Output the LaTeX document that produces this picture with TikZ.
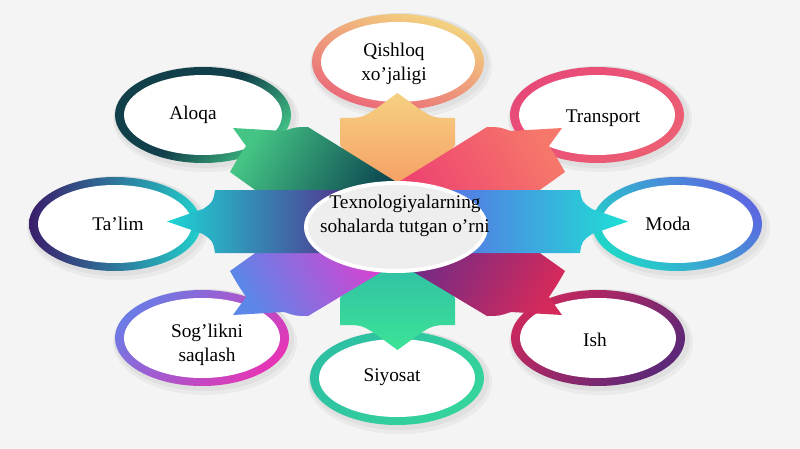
\documentclass[tikz,border=0pt]{standalone}
\usepackage{fontspec}
\setmainfont{Liberation Serif}
\definecolor{bg}{HTML}{F4F4F4}
\definecolor{hubfill}{HTML}{EEEEEE}
\definecolor{qringtop}{HTML}{F3D67E}
\definecolor{qringbot}{HTML}{EA6679}
\definecolor{qtip}{HTML}{F5D182}
\definecolor{qbase}{HTML}{F7945F}
\definecolor{aringdark}{HTML}{12404A}
\definecolor{aringgreen}{HTML}{40BF85}
\definecolor{atip}{HTML}{45C585}
\definecolor{abase}{HTML}{0E4A52}
\definecolor{tringa}{HTML}{E84A78}
\definecolor{tringb}{HTML}{EC5E74}
\definecolor{ttip}{HTML}{F6786A}
\definecolor{tbase}{HTML}{EE4470}
\definecolor{mringblue}{HTML}{5B68E0}
\definecolor{mringcyan}{HTML}{20D5C8}
\definecolor{mtip}{HTML}{1EE0D5}
\definecolor{mbase}{HTML}{5B6FE6}
\definecolor{iringred}{HTML}{C8285E}
\definecolor{iringpurple}{HTML}{5C2877}
\definecolor{itip}{HTML}{D32A5B}
\definecolor{ibase}{HTML}{6E2A88}
\definecolor{sringa}{HTML}{2EC0A3}
\definecolor{sringb}{HTML}{34D49B}
\definecolor{stip}{HTML}{3CE396}
\definecolor{sbase}{HTML}{2DB5AA}
\definecolor{gringblue}{HTML}{6C7AE5}
\definecolor{gringpink}{HTML}{E535B5}
\definecolor{gtip}{HTML}{5C86E8}
\definecolor{gbase}{HTML}{DF3ECF}
\definecolor{lringpurple}{HTML}{3B1D6A}
\definecolor{lringcyan}{HTML}{20D0CC}
\definecolor{ltip}{HTML}{1DD5D5}
\definecolor{lbase}{HTML}{55288A}
\begin{document}
\begin{tikzpicture}[x=0.03cm,y=-0.03cm,
  lbl/.style={font=\fontsize{16.5}{21}\selectfont, align=center, text=black},
  halo/.style={fill=black, opacity=.04},
  hole/.style={fill=white}]
  \useasboundingbox (0,0) rectangle (800,449);
  \fill[bg] (0,0) rectangle (800,449);

  \fill[halo] (401,66) ellipse [x radius=91, y radius=53];
  \fill[halo] (206,119) ellipse [x radius=93, y radius=53];
  \fill[halo] (600,119) ellipse [x radius=92, y radius=53];
  \fill[halo] (118,228) ellipse [x radius=91, y radius=52];
  \fill[halo] (680,228) ellipse [x radius=90, y radius=52];
  \fill[halo] (205,342) ellipse [x radius=92, y radius=53];
  \fill[halo] (400,382) ellipse [x radius=92, y radius=52];
  \fill[halo] (601,342) ellipse [x radius=92, y radius=53];
  \fill[halo] (400,64) ellipse [x radius=89, y radius=51];
  \fill[halo] (205,117) ellipse [x radius=91, y radius=51];
  \fill[halo] (599,117) ellipse [x radius=90, y radius=51];
  \fill[halo] (117,226) ellipse [x radius=89, y radius=50];
  \fill[halo] (679,226) ellipse [x radius=88, y radius=50];
  \fill[halo] (204,340) ellipse [x radius=90, y radius=51];
  \fill[halo] (399,380) ellipse [x radius=90, y radius=50];
  \fill[halo] (600,340) ellipse [x radius=90, y radius=51];

  \shade[top color=qringtop, bottom color=qringbot, shading angle=-20] (398,62) ellipse [x radius=86, y radius=48];
  \fill[hole] (398,62) ellipse [x radius=77, y radius=40];
  \shade[top color=aringdark, bottom color=aringgreen, middle color=aringdark, shading angle=45] (203,115) ellipse [x radius=88, y radius=48];
  \fill[hole] (203,115) ellipse [x radius=79, y radius=40];
  \shade[top color=tringa, bottom color=tringb, shading angle=45] (597,115) ellipse [x radius=87, y radius=48];
  \fill[hole] (597,115) ellipse [x radius=78, y radius=40];
  \shade[top color=lringpurple, bottom color=lringcyan, shading angle=90] (115,224) ellipse [x radius=86, y radius=47];
  \fill[hole] (115,224) ellipse [x radius=77, y radius=39];
  \shade[top color=mringblue, bottom color=mringcyan, shading angle=-45] (677,224) ellipse [x radius=85, y radius=47];
  \fill[hole] (677,224) ellipse [x radius=76, y radius=39];
  \shade[top color=gringblue, bottom color=gringpink, shading angle=45] (202,338) ellipse [x radius=87, y radius=48];
  \fill[hole] (202,338) ellipse [x radius=78, y radius=40];
  \shade[top color=sringa, bottom color=sringb, shading angle=45] (397,378) ellipse [x radius=87, y radius=47];
  \fill[hole] (397,378) ellipse [x radius=78, y radius=39];
  \shade[top color=iringred, bottom color=iringpurple, shading angle=45] (598,338) ellipse [x radius=87, y radius=48];
  \fill[hole] (598,338) ellipse [x radius=78, y radius=40];

  \shade[top color=qtip, bottom color=qbase, shading angle=0] (340,118) -- (340,145) -- (385,205) -- (410,205) -- (455,145) -- (455,118) .. controls (433,118) .. (418,108) -- (397.5,93) -- (377,108) .. controls (362,118) .. (340,118) -- cycle;
  \shade[top color=stip, bottom color=sbase, shading angle=180] (340,325) -- (340,298) -- (385,238) -- (410,238) -- (455,298) -- (455,325) .. controls (433,325) .. (418,335) -- (397.5,350) -- (377,335) .. controls (362,325) .. (340,325) -- cycle;

  \shade[top color=atip, bottom color=abase, shading angle=60] (308,127) .. controls (296,127) .. (284,131) -- (233,128) -- (246,146) .. controls (238,158) .. (230,172) -- (258,192) -- (300,205) -- (398,205) -- (398,183) -- cycle;
  \shade[top color=ttip, bottom color=tbase, shading angle=-61] (487,127) .. controls (499,127) .. (511,131) -- (562,128) -- (549,146) .. controls (557,158) .. (565,172) -- (537,192) -- (495,205) -- (397,205) -- (397,183) -- cycle;
  \shade[top color=gtip, bottom color=gbase, shading angle=120] (308,316) .. controls (296,316) .. (284,312) -- (233,315) -- (246,297) .. controls (238,285) .. (230,271) -- (258,251) -- (300,238) -- (398,238) -- (398,262) -- cycle;
  \shade[top color=itip, bottom color=ibase, shading angle=-119] (487,316) .. controls (499,316) .. (511,312) -- (562,315) -- (549,297) .. controls (557,285) .. (565,271) -- (537,251) -- (495,238) -- (397,238) -- (397,262) -- cycle;

  \shade[top color=ltip, bottom color=lbase, shading angle=90] (360,190) -- (215,190) .. controls (213,202) .. (203,209) -- (167,221.5) -- (203,234) .. controls (213,241) .. (215,253) -- (360,253) -- cycle;
  \shade[top color=mtip, bottom color=mbase, shading angle=-90] (435,190) -- (580,190) .. controls (582,202) .. (592,209) -- (628,221.5) -- (592,234) .. controls (582,241) .. (580,253) -- (435,253) -- cycle;

  \fill[white] (396,227) ellipse [x radius=92, y radius=46];
  \fill[hubfill] (396,227) ellipse [x radius=88, y radius=42];

  \node[lbl] (qishloq) at (394,64) {Qishloq\\xo’jaligi};
  \node[lbl] (aloqa) at (193,115) {Aloqa};
  \node[lbl] (transport) at (603,118) {Transport};
  \node[lbl] (talim) at (118,224) {Ta’lim};
  \node[lbl] (moda) at (668,224) {Moda};
  \node[lbl] (sogliq) at (207,345) {Sog’likni\\saqlash};
  \node[lbl] (siyosat) at (392,377) {Siyosat};
  \node[lbl] (ish) at (595,340) {Ish};
  \node[lbl] (hub) at (405,216) {Texnologiyalarning\\sohalarda tutgan o’rni};
\end{tikzpicture}
\end{document}
